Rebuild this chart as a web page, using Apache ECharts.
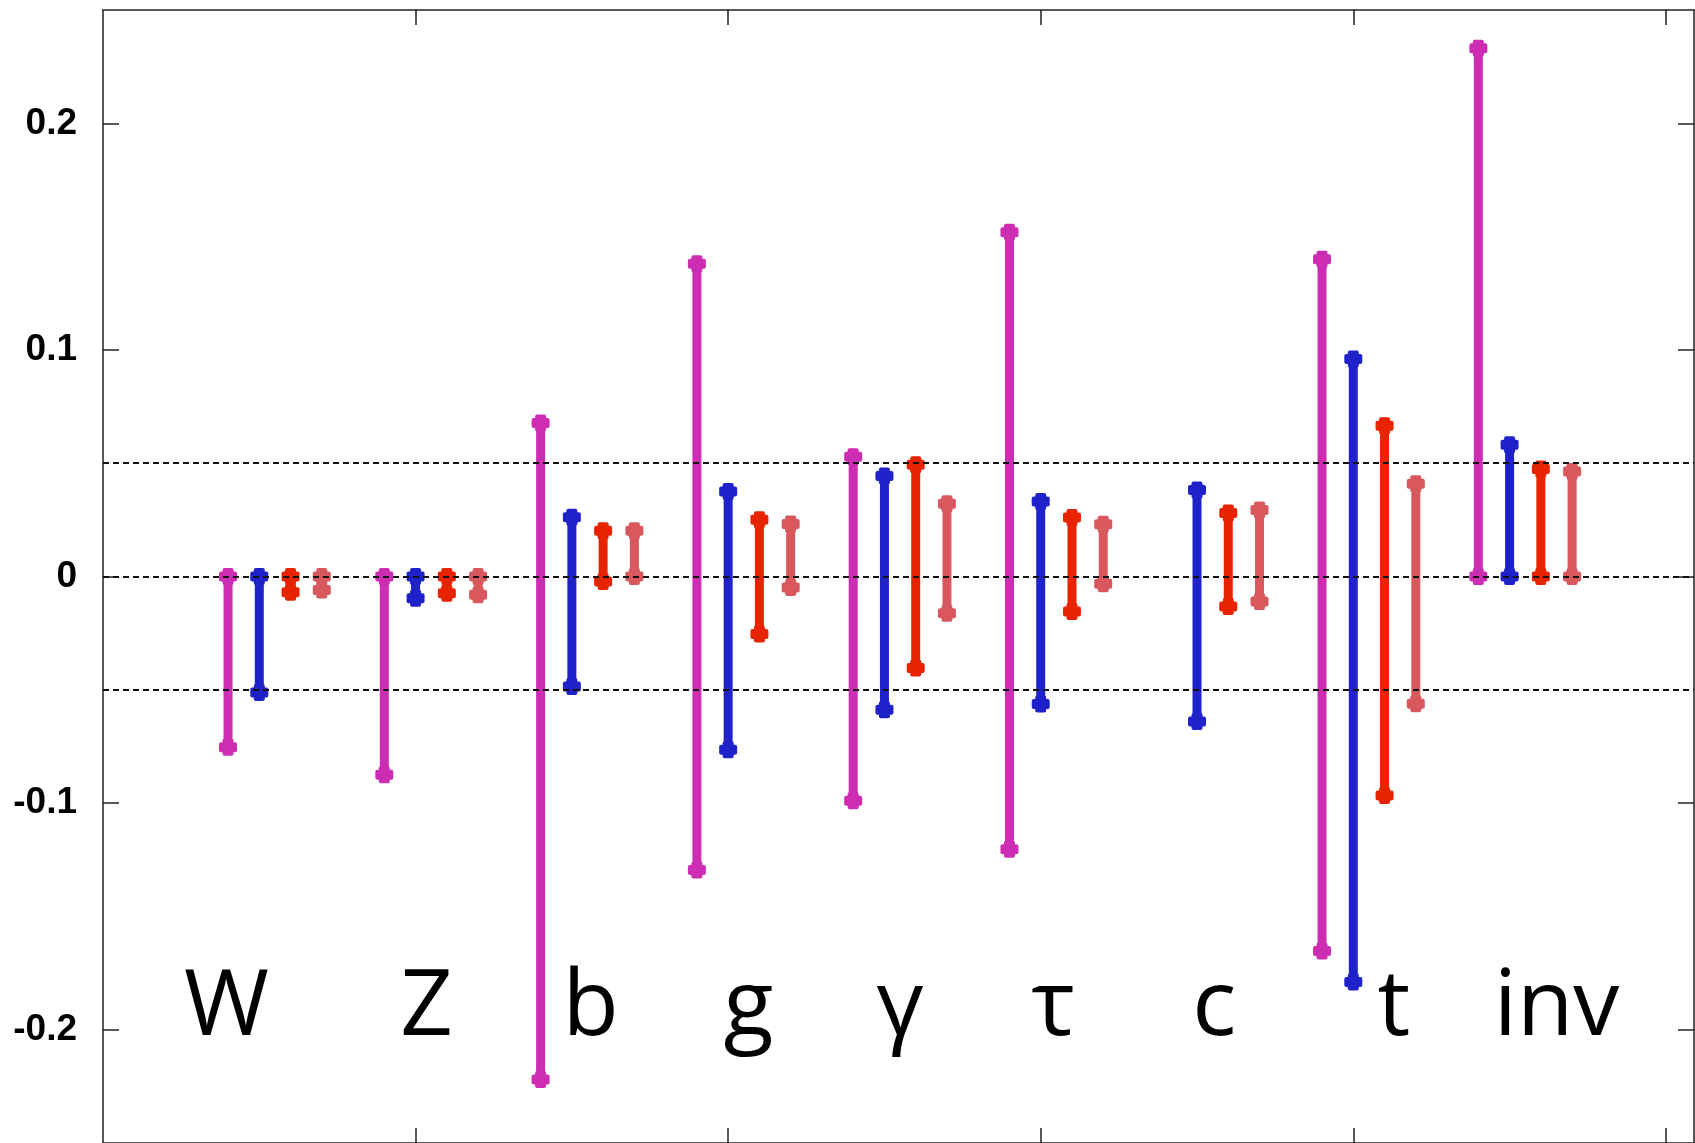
<!DOCTYPE html>
<html>
<head>
<meta charset="utf-8">
<script src="https://cdn.jsdelivr.net/npm/echarts@6/dist/echarts.min.js"></script>
<style>
  html, body { margin: 0; padding: 0; background: #fff; }
  #chart { width: 1695px; height: 1143px; }
</style>
</head>
<body>
<div id="chart"></div>
<script>
// ---- data ----
const categories = ['W', 'Z', 'b', 'g', 'γ', 'τ', 'c', 't', 'inv'];
const groupX = [4, 9, 14, 19, 24, 29, 34, 39, 44];          // x of the first bar in each group
const labelX = [3.95, 10.35, 15.6, 20.65, 25.5, 30.4, 35.55, 41.3, 46.5];
const labelY = -0.1908;
const refLevels = [0.05, 0, -0.05];
const yTicks = [-0.2, -0.1, 0, 0.1, 0.2];
const xTicks = [10, 20, 30, 40, 50];

const magentaHigh = [0, 0, 0.0677, 0.138, 0.0529, 0.1519, null, 0.140, 0.2331];
const magentaLow  = [-0.0753, -0.0875, -0.222, -0.1295, -0.099, -0.1204, null, -0.1653, 0];
const blueHigh    = [0, 0, 0.0262, 0.0375, 0.0444, 0.0331, 0.0382, 0.096, 0.0581];
const blueLow     = [-0.0512, -0.0096, -0.0485, -0.0765, -0.0588, -0.0563, -0.064, -0.179, 0];
const redHigh     = [0, 0, 0.0202, 0.025, 0.0493, 0.026, 0.028, 0.0665, 0.0474];
const redLow      = [-0.007, -0.0074, -0.0022, -0.0254, -0.0404, -0.0154, -0.0132, -0.0966, 0];
const pinkHigh    = [0, 0, 0.0202, 0.0232, 0.0321, 0.0231, 0.0294, 0.0409, 0.0463];
const pinkLow     = [-0.006, -0.008, 0, -0.0049, -0.0162, -0.0032, -0.011, -0.0562, 0];

// ---- build ----
const seriesDefs = [
  { name: 'magenta', color: '#cc2db3', lo: magentaLow, hi: magentaHigh, offset: 0 },
  { name: 'blue',    color: '#1f22c9', lo: blueLow,    hi: blueHigh,    offset: 1 },
  { name: 'red',     color: '#e82400', lo: redLow,     hi: redHigh,     offset: 2 },
  { name: 'pink',    color: '#d8585e', lo: pinkLow,    hi: pinkHigh,    offset: 3 }
];

function renderErr(params, api) {
  const x = api.value(0), lo = api.value(1), hi = api.value(2);
  const pT = api.coord([x, hi]);
  const pB = api.coord([x, lo]);
  const color = api.visual('color');
  function cap(p) {
    return [
      { type: 'rect', shape: { x: p[0] - 9, y: p[1] - 5, width: 18, height: 10, r: 2 }, style: { fill: color } },
      { type: 'rect', shape: { x: p[0] - 5.5, y: p[1] - 8.5, width: 11, height: 17, r: 2 }, style: { fill: color } }
    ];
  }
  return {
    type: 'group',
    children: [
      { type: 'line', shape: { x1: pT[0], y1: pT[1], x2: pB[0], y2: pB[1] }, style: { stroke: color, lineWidth: 9 } }
    ].concat(cap(pT), cap(pB))
  };
}

const series = [];
series.push({
  type: 'line', data: [], silent: true, z: 1,
  markLine: {
    silent: true, symbol: 'none', label: { show: false },
    lineStyle: { type: [6, 4], color: '#111', width: 1.8 },
    data: refLevels.map(v => ({ yAxis: v }))
  }
});
seriesDefs.forEach(d => {
  const data = [];
  categories.forEach((c, i) => {
    if (d.lo[i] === null || d.hi[i] === null) return;
    data.push([groupX[i] + d.offset, d.lo[i], d.hi[i]]);
  });
  series.push({
    type: 'custom', name: d.name, renderItem: renderErr, data: data, z: 3,
    itemStyle: { color: d.color }, encode: { x: 0, y: [1, 2] }
  });
});
series.push({
  type: 'custom', z: 4,
  data: categories.map((c, i) => [labelX[i], labelY, c]),
  encode: { x: 0, y: 1 },
  renderItem: function (params, api) {
    const p = api.coord([api.value(0), api.value(1)]);
    return {
      type: 'text', x: p[0], y: p[1],
      style: {
        text: categories[params.dataIndex], fontSize: 92, fontFamily: 'Open Sans',
        fill: '#000', align: 'center', verticalAlign: 'middle'
      }
    };
  }
});

const axisLineStyle = { color: '#222', width: 1.5 };
const chart = echarts.init(document.getElementById('chart'), null, { renderer: 'canvas' });
chart.setOption({
  animation: false,
  backgroundColor: '#fff',
  grid: { left: 103, right: 1, top: 10, bottom: -1, containLabel: false },
  xAxis: [
    { type: 'value', min: 0, max: 50.9, position: 'bottom',
      axisLine: { show: true, onZero: false, lineStyle: axisLineStyle },
      axisTick: { show: true, inside: true, length: 15, lineStyle: axisLineStyle, customValues: xTicks },
      axisLabel: { show: false }, splitLine: { show: false } },
    { type: 'value', min: 0, max: 50.9, position: 'top',
      axisLine: { show: true, onZero: false, lineStyle: axisLineStyle },
      axisTick: { show: true, inside: true, length: 15, lineStyle: axisLineStyle, customValues: xTicks },
      axisLabel: { show: false }, splitLine: { show: false } }
  ],
  yAxis: [
    { type: 'value', min: -0.25, max: 0.25, position: 'left',
      axisLine: { show: true, onZero: false, lineStyle: axisLineStyle },
      axisTick: { show: true, inside: true, length: 16, lineStyle: axisLineStyle, customValues: yTicks },
      axisLabel: { show: true, customValues: yTicks, margin: 26,
        fontFamily: 'Liberation Sans', fontWeight: 'bold', fontSize: 37, color: '#000',
        formatter: v => (Math.abs(v) < 1e-9 ? '0' : (+v).toFixed(1)) },
      splitLine: { show: false } },
    { type: 'value', min: -0.25, max: 0.25, position: 'right',
      axisLine: { show: true, onZero: false, lineStyle: axisLineStyle },
      axisTick: { show: true, inside: true, length: 16, lineStyle: axisLineStyle, customValues: yTicks },
      axisLabel: { show: false }, splitLine: { show: false } }
  ],
  series: series
});
</script>
</body>
</html>
